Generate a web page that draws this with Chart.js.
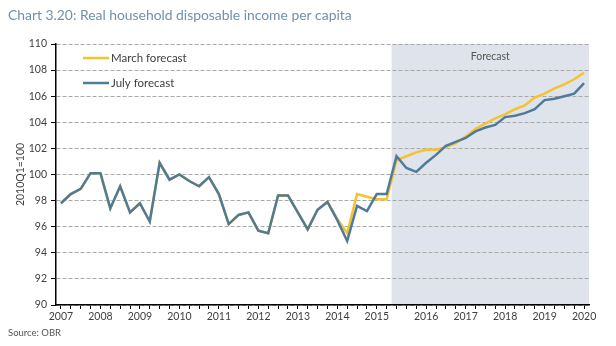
<!DOCTYPE html>
<html><head><meta charset="utf-8">
<style>html,body{margin:0;padding:0;background:#fff;} #wrap{width:616px;height:346px;position:relative;}</style>
<script src="https://cdn.jsdelivr.net/npm/chart.js@4.4.1/dist/chart.umd.min.js"></script>
</head><body><div id="wrap"><canvas id="c" width="616" height="346"></canvas></div>
<script>
// ---- data ----
const quarters = [];
for (let y = 2007; y <= 2020; y++) for (let q = 1; q <= 4; q++) { if (y === 2020 && q > 2) break; quarters.push(y + 'Q' + q); }

const julyForecast = [97.8, 98.5, 98.9, 100.1, 100.1, 97.4, 99.1, 97.1, 97.8, 96.4,
  100.9, 99.6, 100.0, 99.5, 99.1, 99.8, 98.5, 96.2, 96.9, 97.1,
  95.7, 95.5, 98.4, 98.4, 97.1, 95.8, 97.3, 97.9, 96.5, 94.9,
  97.6, 97.2, 98.5, 98.5, 101.4, 100.5, 100.2, 100.9, 101.5, 102.2,
  102.5, 102.8, 103.3, 103.6, 103.8, 104.4, 104.5, 104.7, 105.0, 105.7,
  105.8, 106.0, 106.2, 107.0];

const marchForecast = [97.8, 98.5, 98.9, 100.1, 100.1, 97.4, 99.1, 97.1, 97.8, 96.4,
  100.9, 99.6, 100.0, 99.5, 99.1, 99.8, 98.5, 96.2, 96.9, 97.1,
  95.7, 95.5, 98.4, 98.4, 97.1, 95.8, 97.3, 97.9, 96.6, 95.5,
  98.5, 98.3, 98.1, 98.1, 101.1, 101.4, 101.7, 101.9, 101.9, 102.1,
  102.4, 102.9, 103.5, 103.9, 104.3, 104.6, 105.0, 105.3, 105.9, 106.2,
  106.6, 106.9, 107.3, 107.8];

const yearTicks = {'2007Q1':'2007','2008Q1':'2008','2009Q1':'2009','2010Q1':'2010','2011Q1':'2011',
  '2012Q1':'2012','2013Q1':'2013','2014Q1':'2014','2015Q1':'2015','2016Q2':'2016','2017Q2':'2017',
  '2018Q2':'2018','2019Q2':'2019','2020Q2':'2020'};
const forecastStart = '2015Q3';

const TITLE = 'Chart 3.20: Real household disposable income per capita';
const SOURCE = 'Source: OBR';
const Y_TITLE = '2010Q1=100';
const FORECAST_LABEL = 'Forecast';

// ---- style ----
const BLUE = '#4f7b98';
const YELLOW = '#f5c232';
const FONT = 'Lato, "Open Sans", sans-serif';
const TXT = '#404040';

const decor = {
  id: 'decor',
  beforeDraw(chart) {
    const {ctx, chartArea: a, scales: {x}} = chart;
    const i0 = quarters.indexOf(forecastStart);
    const xs = (x.getPixelForValue(i0 - 1) + x.getPixelForValue(i0)) / 2;
    ctx.save();
    ctx.fillStyle = '#dfe4ec';
    ctx.fillRect(xs, a.top, a.right - xs, a.bottom - a.top);
    ctx.restore();
  },
  afterDraw(chart) {
    const {ctx, chartArea: a, scales: {x}} = chart;
    ctx.save();
    // title
    ctx.fillStyle = '#6f91ac';
    ctx.textBaseline = 'alphabetic';
    ctx.textAlign = 'left';
    ctx.font = '15px ' + FONT;
    const w = ctx.measureText(TITLE).width;
    const fs = 15 * 344 / w;
    ctx.font = fs.toFixed(2) + 'px ' + FONT;
    ctx.fillText(TITLE, 8, 20);
    // source
    ctx.fillStyle = '#555';
    ctx.font = '9.5px ' + FONT;
    ctx.textBaseline = 'middle';
    ctx.fillText(SOURCE, 8, 333);
    // forecast label
    const i0 = quarters.indexOf(forecastStart);
    const xs = (x.getPixelForValue(i0 - 1) + x.getPixelForValue(i0)) / 2;
    ctx.textAlign = 'center';
    ctx.fillStyle = '#555';
    ctx.font = '10.5px ' + FONT;
    ctx.fillText(FORECAST_LABEL, (xs + a.right) / 2, 57);
    // legend
    const items = [{t: 'March forecast', c: YELLOW, y: 58}, {t: 'July forecast', c: BLUE, y: 83}];
    ctx.textAlign = 'left';
    ctx.font = '11.5px ' + FONT;
    items.forEach(it => {
      ctx.strokeStyle = it.c; ctx.lineWidth = 2.5;
      ctx.beginPath(); ctx.moveTo(83, it.y); ctx.lineTo(109, it.y); ctx.stroke();
      ctx.fillStyle = TXT;
      ctx.fillText(it.t, 111, it.y);
    });
    ctx.restore();
  }
};

new Chart(document.getElementById('c'), {
  type: 'line',
  data: {
    labels: quarters,
    datasets: [
      {label: 'July forecast', data: julyForecast, borderColor: BLUE, borderWidth: 2.5, pointRadius: 0, tension: 0, fill: false, order: 0},
      {label: 'March forecast', data: marchForecast, borderColor: YELLOW, borderWidth: 2.5, pointRadius: 0, tension: 0, fill: false, order: 1}
    ]
  },
  options: {
    responsive: false,
    animation: false,
    layout: {padding: {left: 0, top: 44, right: 27, bottom: 21}},
    plugins: {legend: {display: false}, tooltip: {enabled: false}, title: {display: false}},
    scales: {
      x: {
        type: 'category',
        offset: true,
        grid: {display: true, drawOnChartArea: false, drawTicks: true, tickLength: 4, tickColor: '#000', tickWidth: 1, tickBorderDash: [], offset: false},
        border: {color: '#000', width: 1.5},
        ticks: {autoSkip: false, maxRotation: 0, minRotation: 0, padding: 1, color: TXT, font: {family: FONT, size: 10.5},
          callback: (v, i) => yearTicks[quarters[i]] || ''},
        afterFit: s => { s.height = 20; }
      },
      y: {
        min: 90, max: 110,
        ticks: {stepSize: 2, padding: 4, color: TXT, font: {family: FONT, size: 10.5}},
        grid: {color: '#a9a9a9', lineWidth: 1, tickLength: 5, tickColor: '#000', tickWidth: 1, tickBorderDash: []},
        border: {color: '#000', width: 1.5, dash: [4, 2]},
        title: {display: true, text: Y_TITLE, color: TXT, font: {family: FONT, size: 10.5}, padding: {top: 14, bottom: 0}},
        afterFit: s => { s.width = 56; }
      }
    }
  },
  plugins: [decor]
});
</script>
</body></html>
